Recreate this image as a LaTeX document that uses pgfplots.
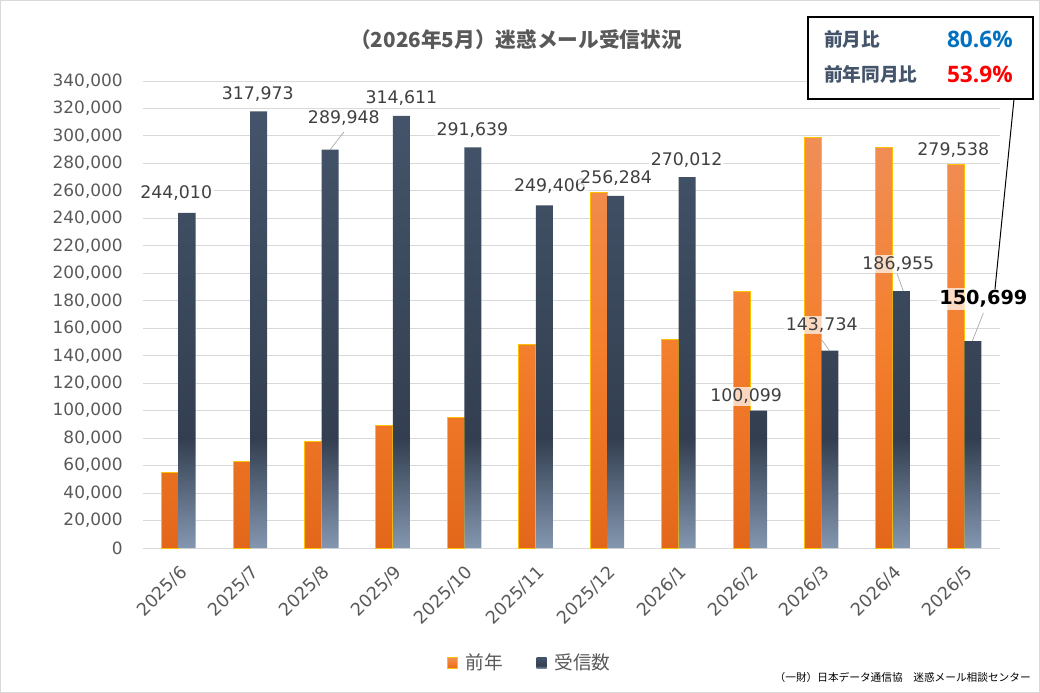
\documentclass[border=0pt]{standalone}
\usepackage{fontspec}
\setmainfont{DejaVu Sans}
\newfontfamily\jp{Noto Sans CJK JP}
\newfontfamily\os{Open Sans}
\usepackage{pgfplots}
\pgfplotsset{compat=1.18}
\definecolor{gridc}{HTML}{D9D9D9}
\definecolor{tickc}{HTML}{595959}
\definecolor{labc}{HTML}{404040}
\definecolor{otop}{HTML}{F08E57}
\definecolor{omid}{HTML}{F47F2D}
\definecolor{obot}{HTML}{E3671A}
\definecolor{gold}{HTML}{FFC000}
\definecolor{dtop}{HTML}{44546A}
\definecolor{dmid}{HTML}{333F50}
\definecolor{dbot}{HTML}{8497B0}
\definecolor{boxtxt}{HTML}{44546A}
\definecolor{blueone}{HTML}{0070C0}
\definecolor{redone}{HTML}{FF0000}
\pgfdeclareverticalshading{orangebar}{100bp}{color(0bp)=(obot); color(25bp)=(obot); color(50bp)=(omid); color(75bp)=(otop); color(100bp)=(otop)}
\pgfdeclareverticalshading{darkbar}{100bp}{color(0bp)=(dbot); color(25bp)=(dbot); color(37.5bp)=(dmid); color(75bp)=(dtop); color(100bp)=(dtop)}
\begin{document}
\begin{tikzpicture}
\useasboundingbox (0pt,0pt) rectangle (780pt,519.75pt);
\draw[gridc, line width=0.75pt] (0.375pt,0.375pt) rectangle (779.625pt,519.375pt);
\begin{axis}[
  at={(107.25pt,108.75pt)}, anchor=south west,
  scale only axis, width=642.75pt, height=350.25pt,
  xmin=-0.5, xmax=11.5, ymin=0, ymax=340000,
  ybar=0pt, bar width=12.75pt,
  xtick={0,...,11},
  xticklabels={2025/6,2025/7,2025/8,2025/9,2025/10,2025/11,2025/12,2026/1,2026/2,2026/3,2026/4,2026/5},
  scaled y ticks=false,
  ytick={0,20000,40000,60000,80000,100000,120000,140000,160000,180000,200000,220000,240000,260000,280000,300000,320000,340000},
  yticklabels={0,{20,000},{40,000},{60,000},{80,000},{100,000},{120,000},{140,000},{160,000},{180,000},{200,000},{220,000},{240,000},{260,000},{280,000},{300,000},{320,000},{340,000}},
  ymajorgrids, grid style={gridc, line width=0.75pt},
  axis line style={draw=none},
  major tick length=0pt,
  yticklabel style={anchor=east, inner sep=0pt, xshift=-15pt, text=tickc, font=\fontsize{12.7}{14}\selectfont},
  xticklabel style={xshift=0pt, yshift=-12pt, rotate=45, anchor=north east, inner sep=0pt, text=tickc, font=\fontsize{13.2}{15}\selectfont},
  legend style={at={(0.4516,-0.246)}, anchor=center, draw=none, fill=none, legend columns=2,
    font=\jp\fontsize{14}{16}\selectfont, text=tickc,
    /tikz/every odd column/.append style={column sep=4pt},
    /tikz/every even column/.append style={column sep=23pt}},
  legend image code/.code={\path[#1] (0pt,-4.25pt) rectangle (7.5pt,4.25pt);},
  clip=false,
]
\addplot[shade, shading=orangebar, draw=gold, line width=0.75pt] coordinates {
(0,55100) (1,63100) (2,77700) (3,89300) (4,95200) (5,148300)
(6,258500) (7,151500) (8,187100) (9,299000) (10,291700) (11,279538)};
\addplot[shade, shading=darkbar, draw=none] coordinates {
(0,244010) (1,317973) (2,289948) (3,314611) (4,291639) (5,249406)
(6,256284) (7,270012) (8,100099) (9,143734) (10,186955) (11,150699)};
\legend{前年,受信数}
% leader lines
\draw[gray!70, line width=0.5pt] (axis cs:2.118,289800) -- (axis cs:2.312,302900);
\draw[gray!70, line width=0.5pt] (axis cs:9.117,143400) -- (axis cs:9.005,151400);
\draw[gray!70, line width=0.5pt] (axis cs:10.146,187100) -- (axis cs:10.06,199500);
\draw[gray!70, line width=0.5pt] (axis cs:11.113,150700) -- (axis cs:11.267,171100);
\tikzset{lab/.style={fill=white, fill opacity=0.7, text opacity=1, inner sep=1.5pt, text=labc, font=\fontsize{13}{15}\selectfont}}
\node[lab] at (axis cs:-0.035,258500) {244,010};
\node[lab] at (axis cs:1.107,330500) {317,973};
\node[lab] at (axis cs:2.312,313100) {289,948};
\node[lab] at (axis cs:3.118,327300) {314,611};
\node[lab] at (axis cs:4.113,304300) {291,639};
\node[lab] at (axis cs:5.199,263200) {249,406};
\node[lab] at (axis cs:6.124,269400) {256,284};
\node[lab] at (axis cs:7.112,282500) {270,012};
\node[lab] at (axis cs:7.946,110300) {100,099};
\node[lab] at (axis cs:9.004,162400) {143,734};
\node[lab] at (axis cs:10.076,206800) {186,955};
\node[lab] at (axis cs:10.846,289400) {279,538};
\node[lab, text=black, font=\bfseries\fontsize{14.5}{17}\selectfont] at (axis cs:11.267,181300) {150,699};
\end{axis}
\node[font=\jp\bfseries\fontsize{15.5}{17}\selectfont, text=tickc] at (387pt,489.75pt) {（2026年5月）迷惑メール受信状況};
\draw[black, line width=0.75pt] (760.5pt,445.5pt) -- (746.25pt,303pt);
\draw[black, fill=white, line width=1pt] (606pt,507pt) rectangle (774.75pt,445.5pt);
\node[anchor=west, font=\jp\bfseries\fontsize{14}{16}\selectfont, text=boxtxt, inner sep=0pt] at (618pt,490.125pt) {前月比};
\node[anchor=west, font=\jp\bfseries\fontsize{14}{16}\selectfont, text=boxtxt, inner sep=0pt] at (618pt,464.25pt) {前年同月比};
\node[anchor=east, font=\os\bfseries\fontsize{17}{19}\selectfont, text=blueone, inner sep=0pt] at (759.75pt,490.5pt) {80.6\%};
\node[anchor=east, font=\os\bfseries\fontsize{17}{19}\selectfont, text=redone, inner sep=0pt] at (759.75pt,464.25pt) {53.9\%};
\node[anchor=east, font=\jp\fontsize{8}{10}\selectfont, text=black, inner sep=0pt] at (773.25pt,12pt) {（一財）日本データ通信協　迷惑メール相談センター};
\end{tikzpicture}
\end{document}
